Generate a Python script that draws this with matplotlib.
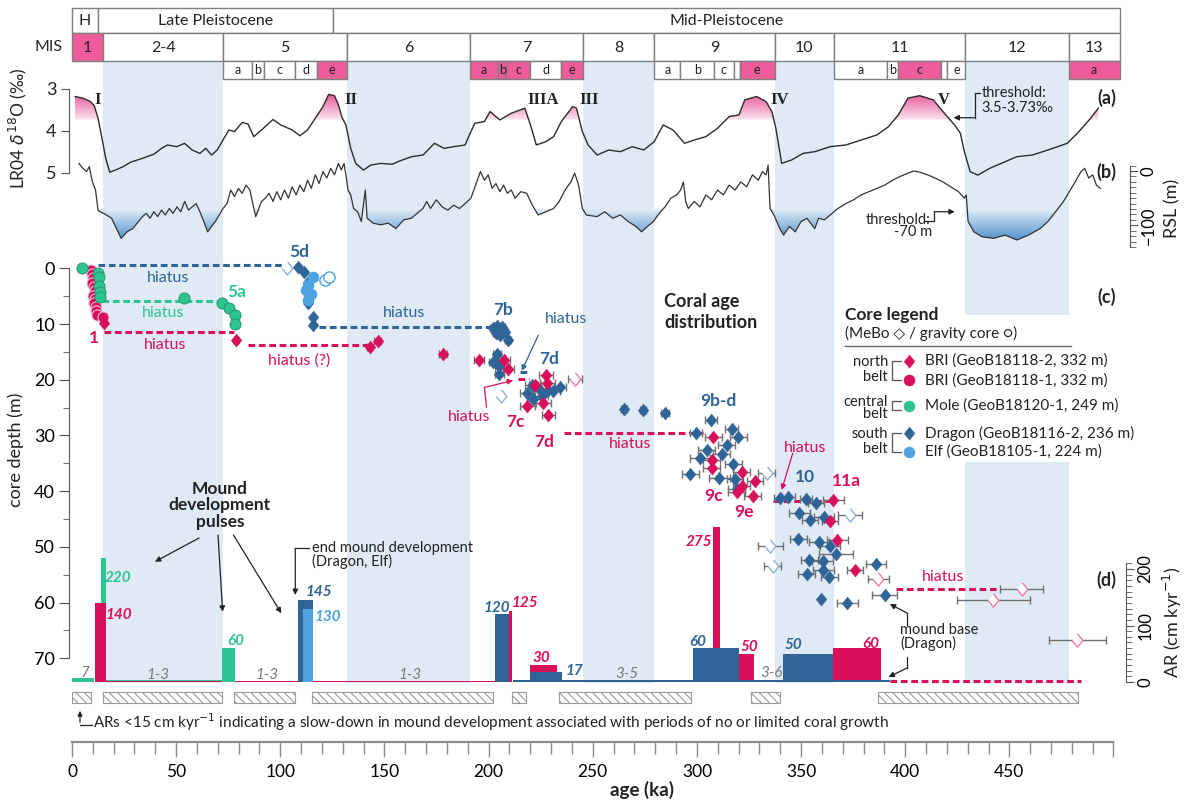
import numpy as np
import matplotlib
matplotlib.use("Agg")
import matplotlib.pyplot as plt
from matplotlib import font_manager
from matplotlib.colors import LinearSegmentedColormap
from matplotlib.patches import Rectangle, FancyArrowPatch
from matplotlib.lines import Line2D
from matplotlib.path import Path

plt.rcParams['font.family'] = ['Lato', 'DejaVu Sans']
plt.rcParams['hatch.linewidth'] = 0.8
_installed = {f.name for f in font_manager.fontManager.ttflist}
NARROW = ['Liberation Sans Narrow', 'Lato'] if 'Liberation Sans Narrow' in _installed else ['Lato']

# ---------------- time scale (ka) ----------------
epoch_names = ["H", "Late Pleistocene", "Mid-Pleistocene"]
epoch_edges = [0, 12.4, 125.5, 503]
mis_labels = ["1", "2-4", "5", "6", "7", "8", "9", "10", "11", "12", "13"]
mis_edges = [0, 14.9, 72.6, 132.0, 191.3, 245.4, 279.5, 337.3, 365.9, 428.8, 478.4, 503.0]
mis_warm = ["1"]
sub_labels = ["a", "b", "c", "d", "e", "a", "b", "c", "d", "e", "a", "b", "c", "", "e",
              "a", "b", "c", "", "e", "a"]
sub_start = [72.6, 86.2, 92.2, 107.0, 117.5, 191.3, 204.5, 208.5, 220.0, 234.8, 279.5, 292.1, 308.3,
             317.6, 320.5, 365.9, 391.1, 396.5, 417.2, 420.3, 478.4]
sub_end = [86.2, 92.2, 107.0, 117.5, 132.0, 204.5, 208.5, 220.0, 234.8, 245.4, 292.1, 308.3, 317.6,
           320.5, 337.3, 391.1, 396.5, 417.2, 420.3, 428.8, 503.0]
sub_warm = [False, False, False, False, True, True, True, True, False, True, False, False, False,
            False, True, False, False, True, False, False, True]
glacial_start = [14.9, 132.0, 245.4, 337.3, 428.8]
glacial_end = [72.6, 191.3, 279.5, 365.9, 478.4]

# ---------------- (a) LR04 d18O ----------------
lr04_age = [1.5, 5.2, 8.9, 10.7, 12.5, 14.4, 16.2, 18.1, 20.8, 24.5, 28.2, 33.8, 39.3, 43.0, 45.8,
            50.4, 54.0, 57.7, 61.4, 64.2, 67.0, 69.7, 72.5, 75.3, 78.0, 81.7, 84.5, 87.3, 91.0, 96.5,
            100.2, 105.7, 109.4, 113.1, 116.8, 120.5, 123.2, 126.0, 127.9, 129.7, 131.5, 133.8, 136.2,
            139.9, 143.5, 148.2, 153.7, 157.4, 163.0, 168.5, 174.0, 178.6, 183.2, 188.7, 191.5, 193.4,
            198.0, 200.7, 205.4, 210.9, 217.4, 220.1, 222.9, 227.5, 231.2, 234.9, 240.4, 242.2, 245.0,
            247.8, 252.1, 257.7, 263.3, 268.9, 274.5, 279.5, 283.8, 288.5, 294.1, 298.8, 304.3, 309.9,
            315.5, 320.2, 323.0, 328.6, 333.2, 336.0, 337.9, 340.7, 345.4, 351.0, 356.6, 364.0, 371.5,
            378.9, 386.4, 392.0, 396.7, 401.3, 406.9, 413.5, 418.1, 423.7, 426.5, 428.4, 431.2, 434.9,
            440.5, 446.1, 453.6, 461.0, 468.5, 477.8, 483.4, 489.0, 492.7]
lr04_d18o = [3.18, 3.22, 3.30, 3.40, 3.70, 4.18, 4.66, 4.99, 4.94, 4.86, 4.75, 4.66, 4.56, 4.42, 4.34,
             4.38, 4.30, 4.46, 4.54, 4.42, 4.58, 4.46, 4.22, 3.98, 4.02, 3.80, 3.84, 4.14, 3.98, 3.73,
             3.86, 3.98, 4.12, 3.98, 3.70, 3.42, 3.13, 3.16, 3.38, 3.69, 3.86, 4.42, 4.78,
             4.94, 4.82, 4.78, 4.80, 4.72, 4.62, 4.58, 4.30, 4.42, 4.38, 4.34, 4.02, 3.82,
             3.78, 3.54, 3.74, 3.58, 3.46, 3.86, 4.34, 4.26, 4.14, 3.78, 3.42, 3.46, 4.02,
             4.34, 4.58, 4.46, 4.50, 4.38, 4.46, 4.26, 3.86, 3.98, 4.30, 4.22, 4.14, 3.94,
             3.66, 3.62, 3.26, 3.18, 3.30, 3.54, 3.94, 4.78, 4.70, 4.54, 4.50, 4.38, 4.34,
             4.22, 4.10, 3.90, 3.62, 3.22, 3.16, 3.26, 3.54, 3.86, 4.06, 4.50, 4.98, 5.06,
             4.90, 4.78, 4.62, 4.58, 4.46, 4.30, 4.02, 3.70, 3.46]

# ---------------- (b) relative sea level ----------------
rsl_age = [3.3, 5.2, 7.0, 8.3, 9.8, 11.3, 12.5, 13.8, 15.3, 19.0,
           23.6, 26.4, 29.2, 31.9, 33.8, 35.6, 37.5, 39.3, 41.1, 43.0,
           44.8, 46.7, 48.5, 50.4, 52.2, 54.1, 55.9, 57.7, 59.6, 61.4,
           63.3, 65.1, 67.0, 68.8, 70.7, 72.5, 74.4, 76.2, 78.0, 79.9,
           81.7, 83.6, 85.4, 87.3, 88.2, 91.0, 92.8, 94.6, 96.5, 98.3,
           100.2, 102.0, 103.9, 105.7, 107.6, 109.4, 111.3, 113.1, 114.9, 116.8,
           118.6, 120.5, 122.3, 124.2, 126.0, 127.9, 129.3, 130.6, 131.5, 132.5,
           133.8, 135.2, 137.1, 138.9, 140.8, 141.7, 144.5, 148.2, 151.8, 155.5,
           159.2, 162.9, 166.6, 168.5, 170.3, 172.1, 174.9, 177.7, 180.4, 183.2,
           186.0, 188.7, 191.5, 194.3, 196.1, 198.0, 199.8, 201.7, 203.5, 205.4,
           207.2, 209.0, 210.9, 212.7, 215.5, 218.3, 221.0, 223.8, 227.5, 231.2,
           233.9, 236.7, 239.5, 241.3, 243.2, 245.0, 246.9,
           252.1, 255.8, 259.5, 263.3, 267.0, 270.7, 273.5, 276.3, 279.1, 281.9,
           284.7, 287.5, 290.3, 292.2, 293.5, 294.6, 295.9, 298.7, 301.5, 304.3,
           307.1, 309.9, 312.7, 315.5, 318.3, 321.1, 323.9, 326.7, 329.5, 331.4,
           333.2, 334.2, 335.1, 337.0, 339.8, 341.6, 344.4, 347.2, 350.0, 352.8,
           356.6, 358.4, 361.2, 364.0, 367.7, 371.5, 375.2, 378.9, 382.7, 386.4,
           390.1, 393.9, 397.6, 401.3, 404.1, 406.9, 410.7, 414.4, 418.1, 421.9,
           425.6, 428.4, 429.3, 430.2, 433.0, 436.8, 442.4, 448.0, 453.6, 459.2,
           464.8, 468.5, 472.2, 476.0, 478.8, 481.6, 484.4, 486.2, 488.1, 490.0,
           491.8, 493.7]
rsl_m = [14, 5, -1, 8, -20, -35, -72, -76, -78, -87,
         -124, -112, -106, -93, -84, -78, -87, -75, -84, -72,
         -81, -69, -78, -66, -75, -56, -72, -66, -60, -75,
         -93, -112, -102, -93, -81, -69, -60, -35, -47, -32,
         -41, -26, -35, -69, -84, -56, -50, -41, -56, -38,
         -53, -35, -50, -29, -44, -26, -38, -17, -32, -7,
         -23, -1, -13, 5, -7, 14, 2, 14, -7, -35,
         -44, -69, -75, -93, -35, -87, -96, -99, -96, -106,
         -90, -87, -75, -69, -56, -69, -53, -66, -72, -63,
         -69, -60, -50, -20, -1, -17, -7, -32, -23, -38,
         -26, -41, -35, -50, -38, -41, -63, -81, -75, -69,
         -56, -35, -20, -4, -26, -69, -81,
         -84, -75, -87, -81, -93, -102, -112, -102, -93, -78,
         -66, -50, -44, -35, -20, -56, -69, -56, -66, -44,
         -53, -35, -44, -26, -35, -20, -29, -7, -17, -1,
         -7, 11, -69, -81, -106, -118, -102, -112, -93, -87,
         -106, -87, -90, -81, -69, -60, -53, -44, -38, -32,
         -26, -17, -10, -4, 0, -2, -7, -13, -20, -29,
         -38, -50, -44, -93, -112, -121, -124, -118, -127, -118,
         -106, -93, -75, -56, -38, -20, -1, 5, -13, -7,
         -26, -32]

# ---------------- (c) coral ages vs core depth ----------------
bri_age = [15.3, 78.8, 143.0, 146.7, 178.0, 195.4, 207.6, 209.5, 227.6, 222.3, 228.2, 218.6, 226.3,
           228.7, 307.9, 307.1, 307.1, 321.5, 327.9, 321.5, 319.1, 326.8, 365.5, 363.9, 367.4, 375.9]
bri_depth = [9.9, 12.9, 14.2, 13.0, 15.3, 16.4, 16.5, 18.0, 19.2, 21.0, 20.6, 24.8, 24.1,
             26.3, 30.3, 34.5, 35.9, 36.5, 38.1, 39.0, 40.2, 40.8, 41.6, 45.4, 48.8, 54.2]
bri_err = [0, 0.8, 1.2, 1.5, 2.0, 2.5, 2.5, 2.5, 3.5, 3.0, 3.5, 3.5, 3.5,
           3.0, 4.0, 4.0, 4.0, 4.0, 4.0, 4.0, 4.0, 4.0, 5.0, 4.0, 5.0, 4.0]
bri_out_age = [241.4, 387.1, 455.9, 442.3, 482.7]
bri_out_depth = [19.9, 55.7, 57.5, 59.6, 66.7]
bri_out_err = [3.5, 5.0, 10.4, 17.4, 13.9]
brigc_age = [9.0, 9.8, 10.3, 9.6, 10.5, 10.9, 10.2, 11.1, 10.7, 11.6, 11.3, 12.2, 14.8]
brigc_depth = [0.3, 1.0, 1.8, 2.6, 3.3, 4.1, 4.9, 5.6, 6.3, 7.0, 7.7, 8.3, 8.7]

dragon_age = [108.5, 111.3, 113.1, 114.0, 113.1, 115.9, 115.9,
              202.3, 204.2, 206.3, 207.9, 203.6, 205.5, 209.2, 203.9, 202.3, 205.2,
              205.2, 220.7, 218.3, 224.7, 228.7, 231.1, 234.3, 221.5, 225.5,
              265.0, 274.3, 284.7, 306.8, 299.6, 316.7, 319.9, 314.3, 311.9, 304.7,
              301.5, 317.5, 296.9, 310.7, 318.3, 319.1,
              339.9, 343.9, 352.4, 357.2, 349.2, 354.3, 361.0, 348.7, 358.6, 363.9,
              366.8, 354.0, 360.4, 360.7, 352.7, 363.6, 386.0, 390.3, 359.6, 372.2]
dragon_depth = [-0.3, 0.6, 2.4, 5.1, 6.3, 8.7, 10.2,
                10.8, 10.4, 10.5, 11.4, 11.7, 12.0, 12.9, 15.3, 16.8, 17.5,
                18.9, 20.9, 22.4, 21.9, 21.8, 22.1, 21.3, 23.5, 23.0,
                25.3, 25.5, 25.9, 27.3, 29.5, 28.9, 30.2, 31.7, 33.3, 32.7,
                34.0, 35.2, 37.0, 37.6, 37.8, 39.6,
                41.3, 41.1, 41.5, 42.2, 44.0, 45.1, 44.6, 48.6, 49.2, 49.8,
                51.3, 52.3, 52.6, 54.1, 54.8, 55.4, 53.1, 58.7, 59.3, 60.0]
dragon_err = [0, 0, 0, 0, 0, 0, 0,
              1.5, 1.5, 1.5, 1.5, 1.5, 1.5, 1.5, 2, 2, 2,
              2, 3, 3, 3, 3, 3, 3, 3, 3,
              1.5, 1.5, 2, 3, 3, 3, 4, 4, 4, 4,
              5, 4, 4, 5, 4, 4,
              3, 3, 3, 4, 5, 4, 5, 4, 5, 5,
              8, 4, 5, 5, 4, 4, 5, 6, 0, 5]
dragon_out_age = [103.0, 206.1, 333.5, 373.5, 335.1, 336.4]
dragon_out_depth = [0.0, 22.9, 36.7, 44.3, 49.8, 53.5]
dragon_out_err = [0, 0, 4, 6, 6, 4]
elf_age = [115.9, 113.1, 112.2, 113.1, 114.5]
elf_depth = [1.5, 3.0, 3.9, 5.7, 4.6]
elf_out_age = [121.4, 123.2]
elf_out_depth = [2.1, 1.5]
mole_age = [4.6, 12.5, 12.8, 13.1, 13.3, 13.5, 53.7, 72.0, 75.6, 78.4, 78.4]
mole_depth = [0.0, 0.8, 1.6, 3.2, 4.3, 5.2, 5.4, 6.2, 7.2, 8.4, 10.0]

hiatus_core = ["Dragon", "Mole", "BRI", "BRI", "Dragon", "Dragon", "BRI", "BRI", "BRI", "BRI"]
hiatus_start = [12.5, 14.4, 15.3, 84.5, 118.6, 215.2, 214.1, 236.0, 336.5, 395.6]
hiatus_end = [103.0, 71.6, 78.0, 141.7, 202.6, 218.4, 219.5, 303.0, 364.5, 445.5]
hiatus_depth = [-0.6, 5.9, 11.4, 13.7, 10.5, 18.7, 19.9, 29.5, 41.7, 57.6]

# ---------------- (d) aggradation rates (cm/kyr) ----------------
bar_core = ["Mole", "Mole", "Mole", "Mole",
            "BRI", "BRI", "BRI", "BRI", "BRI", "BRI", "BRI", "BRI",
            "Dragon", "Dragon", "Dragon", "Dragon", "Dragon", "Dragon", "Dragon", "Dragon", "Dragon",
            "Elf"]
bar_start = [0.0, 13.8, 16.2, 72.1,
             11.1, 16.2, 78.4, 210.0, 220.1, 307.7, 320.2, 365.5,
             108.5, 203.1, 211.8, 220.1, 235.2, 298.3, 320.2, 341.3, 365.5,
             110.7]
bar_end = [10.7, 16.2, 72.1, 78.4,
           16.2, 72.1, 203.1, 211.4, 233.0, 311.0, 327.6, 388.3,
           115.9, 210.0, 220.1, 235.2, 298.3, 320.2, 341.3, 365.5, 392.6,
           115.9]
bar_ar = [7, 220, 3, 60,
          140, 1.5, 2, 125, 30, 275, 50, 60,
          145, 120, 4, 17, 4, 60, 4, 50, 4,
          130]
slow_start = [0, 15, 78, 115, 211, 234, 326, 387]
slow_end = [9, 72, 107, 202, 218, 297, 340, 483]
age_ticks = [0, 50, 100, 150, 200, 250, 300, 350, 400, 450, 500]
age_tick_labels = ["0", "50", "100", "150", "200", "250", "300", "350", "400", "450", ""]

# ---------------- styling / layout ----------------
BRI = '#D90F5C'
DRAGON = '#2F6497'
ELF = '#4DA3E0'
MOLE = '#2DC58F'
PINK = '#EE5C9B'
SHADE = '#DFEAF4'
TXT = '#222222'
AXC = '#555555'
core_color = {"BRI": BRI, "Dragon": DRAGON, "Elf": ELF, "Mole": MOLE}
DIAMOND = [(0, 1), (0.82, 0), (0, -1), (-0.82, 0)]

W, H = 1187, 805
X0, PXKA, XMAX = 72.0, 2.083, 503.0


def rect(top, bottom):
    return [X0 / W, 1 - bottom / H, XMAX * PXKA / W, (bottom - top) / H]


def bare(ax):
    ax.patch.set_visible(False)
    for s in ax.spines.values():
        s.set_visible(False)
    ax.set_xlim(0, XMAX)
    ax.set_xticks([])
    ax.set_yticks([])


def gradient_fill(ax, x, y, thr, far, c_light, c_strong):
    x = np.asarray(x, float)
    y = np.asarray(y, float)
    coll = ax.fill_between(x, y, thr, where=y < thr, interpolate=True,
                           facecolor='none', edgecolor='none')
    paths = [p for p in coll.get_paths() if len(p.vertices)]
    if not paths:
        return
    clip = Path.make_compound_path(*paths)
    cmap = LinearSegmentedColormap.from_list('grad', [c_light, c_strong])
    img = ax.imshow(np.linspace(0, 1, 256).reshape(-1, 1), extent=(x.min(), x.max(), thr, far),
                    origin='lower', aspect='auto', cmap=cmap, zorder=2, interpolation='bilinear')
    img.set_clip_path(clip, transform=ax.transData)


def elbow(ax, xs, ys, color=TXT, lw=0.9):
    if len(xs) > 2:
        ax.plot(xs[:-1], ys[:-1], color=color, lw=lw, clip_on=False, zorder=7)
    ax.annotate('', xy=(xs[-1], ys[-1]), xytext=(xs[-2], ys[-2]), annotation_clip=False,
                arrowprops=dict(arrowstyle='-|>', color=color, lw=lw, mutation_scale=8,
                                shrinkA=0, shrinkB=0), zorder=7)


def label(ax, x, y, s, color=TXT, size=11, weight='normal', style='normal', ha='center', **kw):
    ax.text(x, y, s, color=color, fontsize=size, fontweight=weight, fontstyle=style,
            ha=ha, va='center', clip_on=False, zorder=8, **kw)


fig = plt.figure(figsize=(W / 100, H / 100), dpi=100)

# glacial shading
bg = fig.add_axes(rect(60.7, 683.3))
bg.axis('off')
bg.set_xlim(0, XMAX)
bg.set_ylim(683.3, 60.7)
for a, b in zip(glacial_start, glacial_end):
    bg.axvspan(a, b, color=SHADE, lw=0)
bg.add_patch(Rectangle((glacial_start[-1], 315), glacial_end[-1] - glacial_start[-1], 147,
                       fc='white', lw=0))

# header rows
hd = fig.add_axes(rect(0, 80))
hd.axis('off')
hd.set_xlim(0, XMAX)
hd.set_ylim(80, 0)


def cell(x0, x1, y0, y1, text, warm, fs):
    hd.add_patch(Rectangle((x0, y0), x1 - x0, y1 - y0, fc=PINK if warm else 'white',
                           ec='#7F7F7F', lw=1, clip_on=False))
    hd.text((x0 + x1) / 2, (y0 + y1) / 2 + 0.5, text, ha='center', va='center', fontsize=fs, color=TXT)


for i, name in enumerate(epoch_names):
    cell(epoch_edges[i], epoch_edges[i + 1], 8.3, 33.3, name, False, 11.5)
for i, name in enumerate(mis_labels):
    cell(mis_edges[i], mis_edges[i + 1], 33.3, 60.7, name, name in mis_warm, 11.5)
for i, name in enumerate(sub_labels):
    cell(sub_start[i], sub_end[i], 60.7, 79.3, name, sub_warm[i], 9)
hd.text(-4.5, 47, 'MIS', ha='right', va='center', fontsize=11.5, color=TXT, clip_on=False)

# (a) LR04
aa = fig.add_axes(rect(78, 200))
bare(aa)
gradient_fill(aa, lr04_age, lr04_d18o, 3.73, 3.0, '#FBE6EF', '#E43F87')
aa.plot(lr04_age, lr04_d18o, color='#2b2b2b', lw=1.0, zorder=3)
aa.set_xlim(0, XMAX)
aa.set_ylim(5.656, 2.737)
aa.spines['left'].set_visible(True)
aa.spines['left'].set_bounds(3, 5)
aa.spines['left'].set_position(('outward', 2.2))
aa.spines['left'].set_color(AXC)
aa.set_yticks([3, 4, 5])
aa.tick_params(axis='y', labelsize=13, length=6, color=AXC, labelcolor=TXT, pad=3)
for s, x in [('I', 12.3), ('II', 134.1), ('IIIA', 226.3), ('III', 248.4), ('IV', 339.6), ('V', 418.6)]:
    aa.text(x, 3.263, s, ha='center', va='center', fontsize=12, fontweight='bold',
            family=['Liberation Serif', 'DejaVu Serif'], color=TXT)
label(aa, 496.6, 3.222, '(a)', size=13, weight='bold')
label(aa, 436.6, 3.10, 'threshold:', size=10.5, ha='left')
label(aa, 436.6, 3.45, '3.5-3.73‰', size=10.5, ha='left')
elbow(aa, [435.9, 433.5, 433.5, 423.2], [3.10, 3.10, 3.687, 3.687])

# (b) RSL
ab = fig.add_axes(rect(150, 280))
bare(ab)
gradient_fill(ab, rsl_age, rsl_m, -70, -135, '#E6F0FA', '#3F84C4')
ab.plot(rsl_age, rsl_m, color='#333333', lw=0.9, zorder=3)
ab.set_xlim(0, XMAX)
ab.set_ylim(-200.7, 38.7)
ab.spines['right'].set_visible(True)
ab.spines['right'].set_bounds(-140, 10)
ab.spines['right'].set_position(('outward', 7.3))
ab.spines['right'].set_color(AXC)
ab.yaxis.set_ticks_position('right')
ab.set_yticks([0, -100])
ab.set_yticks(np.arange(-140, 11, 10), minor=True)
ab.tick_params(axis='y', which='major', labelsize=12, length=6, color=AXC, pad=2, labelrotation=90)
ab.tick_params(axis='y', which='minor', length=4, color=AXC)
for t in ab.get_yticklabels():
    t.set_va('center')
label(ab, 496.6, -2.4, '(b)', size=13, weight='bold')
label(ab, 412.1, -90.2, 'threshold:', size=10.5, ha='right')
label(ab, 403.7, -113.0, '-70 m', size=10.5)
elbow(ab, [409.5, 413.9, 413.9, 423.8], [-91.5, -91.5, -75.0, -75.0])

fig.text(18 / W, 1 - 128 / H, r'LR04 $\delta^{18}$O (‰)', rotation=90, ha='center', va='center',
         fontsize=12.5, color=TXT)
fig.text(1172 / W, 1 - 208 / H, 'RSL (m)', rotation=90, ha='center', va='center', fontsize=13, color=TXT)

# (c) coral ages
ac = fig.add_axes(rect(250, 705))
bare(ac)
ac.set_ylim(78.40, -3.286)
ac.spines['left'].set_visible(True)
ac.spines['left'].set_bounds(0, 70)
ac.spines['left'].set_position(('outward', 2.2))
ac.spines['left'].set_color(AXC)
ac.set_yticks(np.arange(0, 71, 10))
ac.set_yticks(np.arange(0, 71, 5), minor=True)
ac.tick_params(axis='y', which='major', length=7, color=AXC, labelsize=13, pad=3)
ac.tick_params(axis='y', which='minor', length=4, color=AXC)
fig.text(16 / W, 1 - 450 / H, 'core depth (m)', rotation=90, ha='center', va='center',
         fontsize=13, color=TXT)

for a0, a1, d, core in zip(hiatus_start, hiatus_end, hiatus_depth, hiatus_core):
    ac.plot([a0, a1], [d, d], color=core_color[core], lw=2.2, dashes=(2.2, 1.2), zorder=2)


def errs(ax, x, y, e):
    x, y, e = map(np.asarray, (x, y, e))
    m = e > 0
    ax.errorbar(x[m], y[m], xerr=e[m], fmt='none', ecolor='#707070', elinewidth=1, capsize=3,
                capthick=1, zorder=3)


errs(ac, bri_out_age, bri_out_depth, bri_out_err)
errs(ac, dragon_out_age, dragon_out_depth, dragon_out_err)
errs(ac, dragon_age, dragon_depth, dragon_err)
errs(ac, bri_age, bri_depth, bri_err)
ac.plot(bri_out_age, bri_out_depth, ls='none', marker=DIAMOND, ms=9.5, mfc='white', mec='#F07AA5', mew=1, zorder=4)
ac.plot(dragon_out_age, dragon_out_depth, ls='none', marker=DIAMOND, ms=9.5, mfc='white', mec='#8FB0D3', mew=1, zorder=4)
ac.plot(elf_out_age, elf_out_depth, ls='none', marker='o', ms=8, mfc='white', mec=ELF, mew=1, zorder=4)
ac.plot(brigc_age, brigc_depth, ls='none', marker='o', ms=8, mfc=BRI, mec='#F7C4D6', mew=0.8, zorder=4)
ac.plot(mole_age, mole_depth, ls='none', marker='o', ms=8, mfc=MOLE, mec='#1E8F67', mew=0.6, zorder=5)
ac.plot(dragon_age, dragon_depth, ls='none', marker=DIAMOND, ms=9.5, mfc=DRAGON, mec=DRAGON, mew=0.3, zorder=5)
ac.plot(elf_age, elf_depth, ls='none', marker='o', ms=8, mfc=ELF, mec=ELF, mew=0.3, zorder=5)
ac.plot(bri_age, bri_depth, ls='none', marker=DIAMOND, ms=9.5, mfc=BRI, mec=BRI, mew=0.3, zorder=5)

for s, x, y, c, bold in [('5d', 109.0, -2.9, DRAGON, True), ('hiatus', 46.3, 1.8, DRAGON, False),
                         ('hiatus', 43.5, 8.0, MOLE, False), ('5a', 79.0, 4.2, MOLE, True),
                         ('1', 10.7, 12.6, BRI, True), ('hiatus', 44.8, 13.8, BRI, False),
                         ('hiatus (?)', 109.0, 16.5, BRI, False), ('hiatus', 159.6, 8.0, DRAGON, False),
                         ('7b', 207.2, 7.4, DRAGON, True), ('hiatus', 237.1, 9.1, DRAGON, False),
                         ('7d', 229.3, 16.2, DRAGON, True), ('hiatus', 190.6, 26.7, BRI, False),
                         ('7c', 212.7, 27.6, BRI, True), ('7d', 226.6, 31.2, BRI, True),
                         ('hiatus', 268.0, 31.6, BRI, False), ('9b-d', 310.3, 23.9, DRAGON, True),
                         ('hiatus', 351.9, 32.2, BRI, False), ('10', 351.9, 37.4, DRAGON, True),
                         ('11a', 371.9, 38.1, BRI, True), ('9c', 307.9, 40.9, BRI, True),
                         ('9e', 322.6, 43.7, BRI, True), ('hiatus', 418.3, 55.5, BRI, False)]:
    label(ac, x, y, s, color=c, size=12.5 if bold else 11.5, weight='bold' if bold else 'normal')
elbow(ac, [223.9, 215.9], [12.0, 18.4], color=DRAGON)
elbow(ac, [199.0, 198.0, 211.8], [24.9, 21.4, 20.1], color=BRI)
elbow(ac, [346.0, 340.7], [33.2, 39.8], color=BRI)
label(ac, 284.4, 6.0, 'Coral age', size=13, weight='bold', ha='left')
label(ac, 284.4, 9.8, 'distribution', size=13, weight='bold', ha='left')
label(ac, 496.6, 5.1, '(c)', size=13, weight='bold')

# legend
label(ac, 371.2, 8.4, 'Core legend', size=12.5, weight='bold', ha='left')
label(ac, 371.2, 11.7, '(MeBo ◇ / gravity core ○)', size=11, ha='left')
ac.plot([371.2, 479.6], [13.9, 13.9], color='#666666', lw=1, clip_on=False)
leg_rows = [16.6, 20.1, 24.7, 29.6, 32.9]
leg_text = ['BRI (GeoB18118-2, 332 m)', 'BRI (GeoB18118-1, 332 m)', 'Mole (GeoB18120-1, 249 m)',
            'Dragon (GeoB18116-2, 236 m)', 'Elf (GeoB18105-1, 224 m)']
leg_style = [(DIAMOND, BRI, 9.5), ('o', BRI, 8), ('o', MOLE, 8), (DIAMOND, DRAGON, 9.5), ('o', ELF, 8)]
for y, t, (mk, c, ms) in zip(leg_rows, leg_text, leg_style):
    ac.plot([401.8], [y], ls='none', marker=mk, ms=ms, mfc=c, mec=c, mew=0.3, clip_on=False)
    label(ac, 409.3, y, t, size=11, ha='left')
for y0, y1 in [(16.6, 20.1), (23.9, 25.5), (29.6, 32.9)]:
    ac.plot([398.1, 393.9, 393.9, 398.1], [y0, y0, y1, y1], color='#555555', lw=0.9, clip_on=False)
for s, y in [('north', 16.9), ('belt', 19.5), ('central', 24.0), ('belt', 26.2), ('south', 29.8), ('belt', 32.4)]:
    label(ac, 391.7, y, s, size=10.5, ha='right')

# (d) aggradation rates
ad = fig.add_axes(rect(250, 705))
bare(ad)
ad.set_ylim(-40.7, 764.6)
for a0, a1, v, core in zip(bar_start, bar_end, bar_ar, bar_core):
    ad.bar(a0, v, width=a1 - a0, align='edge', color=core_color[core], lw=0, zorder=3)
ad.plot([392.6, 484.3], [1.5, 1.5], color=BRI, lw=2.2, dashes=(2.2, 1.2), zorder=3)
ad.bar(slow_start, 19.5, width=np.subtract(slow_end, slow_start), bottom=-37.2, align='edge',
       color='white', edgecolor='#9A9A9A', hatch='\\\\\\\\', lw=0.8, zorder=3)
ad.spines['right'].set_visible(True)
ad.spines['right'].set_bounds(0, 210)
ad.spines['right'].set_position(('outward', 4.5))
ad.spines['right'].set_color(AXC)
ad.yaxis.set_ticks_position('right')
ad.set_yticks([0, 100, 200])
ad.set_yticks(np.arange(0, 211, 10), minor=True)
ad.tick_params(axis='y', which='major', labelsize=12, length=6, color=AXC, pad=2, labelrotation=90)
ad.tick_params(axis='y', which='minor', length=4, color=AXC)
for t in ad.get_yticklabels():
    t.set_va('center')
fig.text(1172 / W, 1 - 622 / H, r'AR (cm kyr$^{-1}$)', rotation=90, ha='center', va='center',
         fontsize=13, color=TXT)
label(ad, 496.6, 180.5, '(d)', size=13, weight='bold')

GRAY = '#7A7A7A'
for s, x, y, c in [('7', 6.5, 16.5, GRAY), ('220', 22.3, 183.5, MOLE), ('140', 22.7, 118.6, BRI),
                   ('1-3', 41.1, 12.4, GRAY), ('60', 78.4, 73.0, MOLE), ('1-3', 93.7, 12.4, GRAY),
                   ('145', 118.3, 159.8, DRAGON), ('130', 122.7, 115.6, ELF), ('1-3', 162.5, 12.4, GRAY),
                   ('120', 203.9, 130.4, DRAGON), ('125', 217.3, 139.3, BRI), ('30', 225.3, 42.0, BRI),
                   ('17', 241.3, 20.0, DRAGON), ('3-5', 266.6, 13.6, GRAY), ('275', 301.0, 248.3, BRI),
                   ('60', 300.2, 71.3, DRAGON), ('50', 325.2, 62.5, BRI), ('3-6', 336.0, 16.5, GRAY),
                   ('50', 346.3, 65.5, DRAGON), ('60', 383.6, 67.3, BRI)]:
    label(ad, x, y, s, color=c, size=11, style='italic', weight='normal' if c == GRAY else 'bold')

label(ad, 71.0, 313.0, 'Mound\ndevelopment\npulses', size=12.5, weight='bold', linespacing=1.05)
elbow(ad, [61.0, 39.8], [254.9, 212.9])
elbow(ad, [70.1, 72.3], [260.2, 124.4])
elbow(ad, [77.5, 100.5], [260.2, 121.6])
label(ad, 115.2, 236.6, 'end mound development', size=10.5, ha='left')
label(ad, 115.2, 212.9, '(Dragon, Elf)', size=10.5, ha='left')
elbow(ad, [114.0, 107.2, 107.2], [236.6, 236.6, 154.0])
label(ad, 397.5, 92.0, 'mound base', size=10.5, ha='left')
label(ad, 397.5, 69.0, '(Dragon)', size=10.5, ha='left')
elbow(ad, [400.9, 400.9, 392.6], [100.9, 122.1, 138.0])
elbow(ad, [400.9, 400.9, 392.0], [44.2, 24.8, 8.8])

# note under panel d
fig.text(93 / W, 1 - 722 / H,
         r'ARs <15 cm kyr$^{-1}$ indicating a slow-down in mound development associated with periods of no or limited coral growth',
         fontsize=11, family=NARROW, va='center', ha='left', color=TXT)
fig.add_artist(Line2D([92 / W, 80 / W], [1 - 725 / H, 1 - 725 / H], transform=fig.transFigure,
                      color=TXT, lw=0.9))
fig.add_artist(FancyArrowPatch((80 / W, 1 - 725 / H), (80 / W, 1 - 708 / H), transform=fig.transFigure,
                               arrowstyle='-|>', mutation_scale=7, color=TXT, lw=0.9))

# age axis
ax_age = fig.add_axes(rect(700, 742))
bare(ax_age)
ax_age.spines['bottom'].set_visible(True)
ax_age.spines['bottom'].set_bounds(0, 500)
ax_age.spines['bottom'].set_color('#8C8C8C')
ax_age.spines['bottom'].set_linewidth(1.6)
ax_age.set_xticks(age_ticks)
ax_age.set_xticklabels(age_tick_labels)
ax_age.set_xticks(np.arange(0, 501, 10), minor=True)
ax_age.tick_params(axis='x', which='major', length=11, width=1, color='#8C8C8C', labelsize=12.5, pad=5)
ax_age.tick_params(axis='x', which='minor', length=8.5, width=1, color='#8C8C8C')
for t in ax_age.get_xticklabels():
    t.set_family(NARROW)
fig.text(642 / W, 1 - 790 / H, 'age (ka)', ha='center', va='center', fontsize=13.5, fontweight='bold',
         family=NARROW, color=TXT)

fig.savefig('out.png', dpi=100)
